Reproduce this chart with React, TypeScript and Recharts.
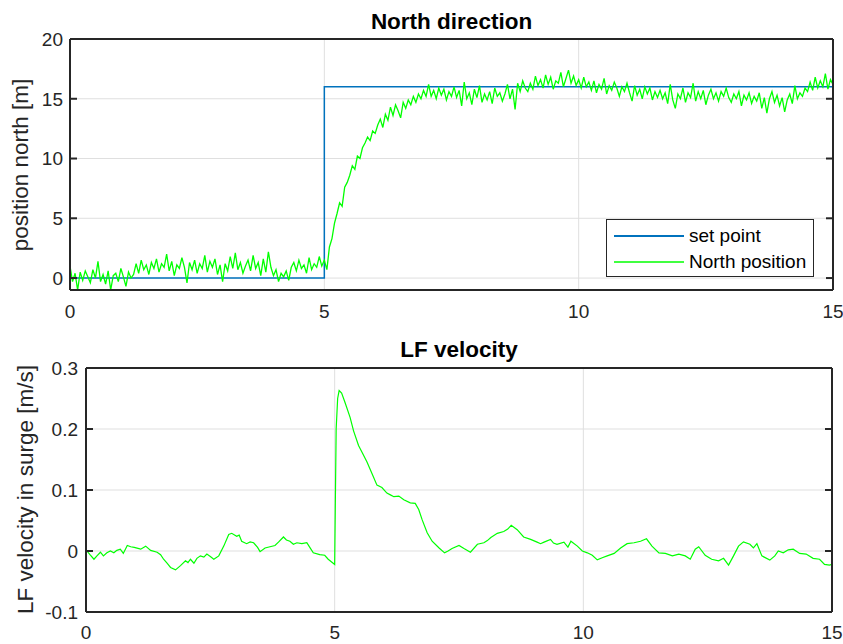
import React from "react";
import { LineChart, Line, XAxis, YAxis, CartesianGrid, Legend } from "recharts";

const AX = "#262626";
const GRID = "#dfdfdf";
const FONT = "'Liberation Sans', Arial, Helvetica, sans-serif";

const X_TICKS = [0, 5, 10, 15];
const NORTH_TICKS = [0, 5, 10, 15, 20];
const VEL_TICKS = [-0.1, 0, 0.1, 0.2, 0.3];
const LEGEND_ORDER = ["set point", "North position"];

// set point step
const SET_POINT_T = [0, 5, 5, 15];
const SET_POINT_N = [0, 0, 16, 16];

// north position, sampled every 0.05 s, one row per second
const NORTH_0_5 = [
  1.0, -0.3, 0.4, -1.0, 0.5, -0.2, 0.6, 0.1, -0.4, 0.7, 0.0, 1.4, -0.3, 0.3, -0.5, 0.6, -1.0, 0.2, 0.4, -0.3,
  0.8, 0.1, -0.7, 0.5, 0.0, 0.3, 1.2, 0.4, 1.5, 0.7, 1.1, 0.3, 1.3, 0.8, 1.6, 0.5, 1.2, 0.9, 2.0, 0.6,
  1.4, 0.2, 1.1, 0.8, 1.7, 0.9, -0.4, 1.3, 0.7, 1.5, 0.4, 1.2, 0.8, 1.9, 0.5, 1.4, 0.9, 1.6, 0.3, 1.1,
  -0.3, 1.2, 0.6, 1.8, 0.8, 2.1, 0.7, 1.3, 0.4, 1.0, 1.5, 0.6, 1.9, 0.8, 1.3, 0.2, 1.6, 0.5, 2.2, 0.9,
  0.2, 0.7, -0.3, 0.4, 0.1, 0.6, -0.2, 0.9, 1.3, 0.6, 1.5, 0.8, 1.1, 0.4, 1.7, 0.7, 1.2, 0.9, 1.8, 1.0,
];
const NORTH_5_10 = [
  1.5, 0.7, 2.6, 3.3, 4.6, 5.4, 6.3, 6.0, 7.6, 8.0, 8.6, 9.4, 9.1, 10.2, 10.0, 10.9, 11.3, 11.8, 11.5, 12.3,
  12.1, 12.8, 13.3, 12.6, 13.7, 13.2, 14.3, 13.6, 14.5, 14.0, 13.4, 14.7, 14.2, 14.9, 14.5, 15.2, 14.7, 15.4, 15.0, 15.7,
  15.2, 16.2, 15.2, 15.7, 15.0, 15.9, 15.3, 15.8, 14.9, 15.6, 15.2, 16.0, 15.1, 15.7, 14.4, 16.4, 15.0, 15.5, 14.5, 15.8,
  15.1, 16.1, 14.7, 15.4, 14.9, 15.6, 14.6, 15.9, 15.2, 15.5, 14.8, 15.4, 16.2, 15.0, 15.8, 14.1, 16.3, 15.6, 16.5, 15.9,
  15.6, 16.3, 15.8, 16.9, 16.1, 16.6, 15.9, 17.0, 16.2, 16.8, 15.8, 16.5, 16.3, 17.2, 16.0, 16.7, 17.4, 16.3, 16.9, 16.1,
];
const NORTH_10_15 = [
  16.6, 15.9, 16.8, 16.0, 16.4, 15.7, 16.5, 15.5, 16.2, 15.8, 16.7, 15.4, 16.1, 15.7, 16.4, 15.9, 15.2, 16.0, 15.6, 16.3,
  15.5, 14.8, 16.1, 15.3, 15.8, 15.0, 16.0, 15.4, 15.9, 14.9, 15.6, 15.1, 15.7, 15.0, 15.5, 14.6, 16.2, 14.9, 14.2, 15.4,
  15.0, 15.9, 14.7, 15.5, 15.1, 16.3, 14.8, 15.6, 15.0, 15.7, 14.5, 15.3, 15.8, 15.0, 15.5, 14.8, 15.6, 15.2, 15.9, 15.1,
  14.7, 15.4, 15.0, 15.6, 14.4, 15.3, 14.9, 15.5, 14.6, 15.2, 14.8, 15.5, 14.2, 15.1, 13.8, 15.0, 15.6, 14.7, 15.3, 14.4,
  15.1, 13.9, 14.9, 15.4, 14.6, 16.1, 15.0, 15.5, 15.2, 15.9, 15.6, 16.4, 15.7, 16.8, 15.9, 16.5, 16.0, 17.1, 15.8, 16.6, 16.2,
];
const DT = 0.05;

// LF velocity in surge
const VEL_T = [
  0, 0.08, 0.16, 0.22, 0.29, 0.35, 0.42, 0.49, 0.56, 0.62,
  0.69, 0.75, 0.83, 0.9, 0.97, 1.1, 1.2, 1.3, 1.43, 1.5,
  1.56, 1.63, 1.7, 1.8, 1.9, 2.0, 2.05, 2.1, 2.17, 2.23,
  2.3, 2.37, 2.43, 2.5, 2.57, 2.67, 2.77, 2.87, 2.93, 3.03,
  3.08, 3.13, 3.23, 3.3, 3.37, 3.45, 3.5, 3.6, 3.7, 3.8,
  3.87, 3.97, 4.03, 4.1, 4.17, 4.24, 4.34, 4.44, 4.5, 4.57,
  4.7, 4.8, 4.87, 4.97, 5.0, 5.03, 5.06, 5.09, 5.14, 5.21,
  5.31, 5.38, 5.48, 5.55, 5.65, 5.75, 5.85, 5.95, 6.05, 6.12,
  6.19, 6.29, 6.39, 6.52, 6.62, 6.69, 6.76, 6.86, 6.96, 7.1,
  7.21, 7.28, 7.36, 7.5, 7.6, 7.73, 7.87, 8.0, 8.07, 8.14,
  8.27, 8.4, 8.48, 8.55, 8.67, 8.8, 8.94, 9.07, 9.14, 9.21,
  9.34, 9.4, 9.47, 9.61, 9.69, 9.75, 9.88, 9.98, 10.08, 10.18,
  10.28, 10.38, 10.48, 10.62, 10.75, 10.88, 11.02, 11.15, 11.27, 11.38,
  11.52, 11.65, 11.79, 11.92, 12.05, 12.15, 12.25, 12.32, 12.45, 12.58,
  12.72, 12.82, 12.92, 13.02, 13.12, 13.22, 13.35, 13.42, 13.49, 13.59,
  13.75, 13.85, 13.92, 14.02, 14.12, 14.22, 14.35, 14.48, 14.62, 14.75,
  14.85, 14.95, 15.0,
];
const VEL_V = [
  0.002, -0.006, -0.0135, -0.008, -0.002, -0.008, -0.003, 0, -0.003, 0.001,
  0.003, -0.004, 0.009, 0.007, 0.006, 0.003, 0.008, 0.001, -0.002, -0.006,
  -0.0135, -0.02, -0.027, -0.031, -0.024, -0.016, -0.019, -0.0135, -0.02, -0.012,
  -0.008, -0.01, -0.005, -0.009, -0.0135, -0.008, 0.008, 0.027, 0.029, 0.024,
  0.026, 0.016, 0.012, 0.015, 0.0135, 0.006, -0.001, 0.005, 0.007, 0.009,
  0.0145, 0.023, 0.018, 0.016, 0.011, 0.0135, 0.012, 0.0135, 0.006, -0.003,
  -0.006, -0.007, -0.0135, -0.02, -0.022, 0.2, 0.25, 0.263, 0.259, 0.243,
  0.219, 0.197, 0.173, 0.162, 0.146, 0.127, 0.108, 0.104, 0.095, 0.092,
  0.089, 0.09, 0.084, 0.079, 0.078, 0.068, 0.051, 0.03, 0.016, 0.005,
  -0.003, 0, 0.004, 0.009, 0.004, -0.002, 0.011, 0.0135, 0.017, 0.022,
  0.029, 0.032, 0.036, 0.042, 0.035, 0.023, 0.019, 0.0146, 0.012, 0.0146,
  0.019, 0.013, 0.011, 0.0146, 0.0065, 0.016, 0.008, 0, -0.003, -0.007,
  -0.0146, -0.011, -0.008, -0.004, 0.005, 0.012, 0.0135, 0.016, 0.02, 0.008,
  -0.003, -0.004, -0.008, -0.005, -0.008, -0.0135, 0.003, 0.007, -0.007, -0.0135,
  -0.016, -0.012, -0.023, -0.008, 0.008, 0.015, 0.011, 0.005, 0.012, -0.008,
  -0.015, -0.008, 0, -0.003, 0.002, 0.003, -0.004, -0.005, -0.012, -0.0135,
  -0.022, -0.023, -0.022,
];

const setPointData = SET_POINT_T.map((t, i) => ({ t, n: SET_POINT_N[i] }));
const northData = [
  ...NORTH_0_5.map((n, i) => ({ t: i * DT, n })),
  ...NORTH_5_10.map((n, i) => ({ t: 5 + i * DT, n })),
  ...NORTH_10_15.map((n, i) => ({ t: 10 + i * DT, n })),
];
const velData = VEL_T.map((t, i) => ({ t, v: VEL_V[i] }));

const tickFont = { fontSize: 19, fill: AX, fontFamily: FONT };
const boxLine = { stroke: AX, strokeWidth: 2 };
// box axes: keep the inward tick marks, drop the labels
const noLabel = () => <g />;

// eslint-disable-next-line @typescript-eslint/no-explicit-any
function LegendBox({ payload }: any) {
  // recharts sorts legend items by name; keep the plotting order instead
  const items = [...(payload || [])].sort(
    (a: any, b: any) => LEGEND_ORDER.indexOf(a.value) - LEGEND_ORDER.indexOf(b.value)
  );
  return (
    <div
      style={{
        width: 208,
        height: 58,
        boxSizing: "border-box",
        border: `1px solid ${AX}`,
        background: "#fff",
        fontFamily: FONT,
        fontSize: 19,
        color: "#000",
        position: "relative",
      }}
    >
      {items.map((p: any, i: number) => (
        <div
          key={p.value}
          style={{ position: "absolute", left: 0, top: 4 + i * 25.5, height: 24, display: "flex", alignItems: "center" }}
        >
          <svg width={82} height={24}>
            <line x1={7} x2={77} y1={12} y2={12} stroke={p.color} strokeWidth={i === 0 ? 2 : 1.3} />
          </svg>
          <span style={{ whiteSpace: "nowrap" }}>{p.value}</span>
        </div>
      ))}
    </div>
  );
}

export default function App() {
  return (
    <div style={{ position: "relative", width: 843, height: 644, fontFamily: FONT, background: "#fff" }}>
      <style>{"body{margin:0}"}</style>

      <div style={{ position: "absolute", left: 0, top: 0 }}>
        <LineChart width={843} height={322} margin={{ top: 39, right: 10, bottom: 1, left: 0 }}>
          <CartesianGrid xAxisId="x" yAxisId="y" stroke={GRID} />
          <XAxis xAxisId="x" type="number" dataKey="t" domain={[0, 15]} ticks={X_TICKS} allowDataOverflow
            height={31} tickSize={0} tickMargin={15} axisLine={false} tickLine={false} tick={tickFont} />
          <XAxis xAxisId="xb" type="number" domain={[0, 15]} ticks={X_TICKS} allowDataOverflow mirror
            tick={noLabel} tickSize={7} tickLine={boxLine} axisLine={boxLine} />
          <XAxis xAxisId="xt" orientation="top" type="number" domain={[0, 15]} ticks={X_TICKS} allowDataOverflow mirror
            tick={noLabel} tickSize={7} tickLine={boxLine} axisLine={boxLine} />
          <YAxis yAxisId="y" type="number" domain={[-1, 20]} ticks={NORTH_TICKS} allowDataOverflow
            width={70} tickSize={0} tickMargin={7} axisLine={false} tickLine={false} tick={tickFont} />
          <YAxis yAxisId="yl" type="number" domain={[-1, 20]} ticks={NORTH_TICKS} allowDataOverflow mirror
            tick={noLabel} tickSize={7} tickLine={boxLine} axisLine={boxLine} />
          <YAxis yAxisId="yr" orientation="right" type="number" domain={[-1, 20]} ticks={NORTH_TICKS} allowDataOverflow mirror
            tick={noLabel} tickSize={7} tickLine={boxLine} axisLine={boxLine} />
          <Line xAxisId="x" yAxisId="y" data={setPointData} dataKey="n" name="set point" type="linear"
            stroke="#0072BD" strokeWidth={1.5} dot={false} activeDot={false} isAnimationActive={false} />
          <Line xAxisId="x" yAxisId="y" data={northData} dataKey="n" name="North position" type="linear"
            stroke="#00FF00" strokeWidth={1.3} dot={false} activeDot={false} isAnimationActive={false} />
          <Legend layout="vertical" align="center" verticalAlign="middle"
            wrapperStyle={{ left: 606, top: 219, width: 208, height: 58 }}
            content={(props: any) => <LegendBox payload={props.payload} />} />
        </LineChart>
      </div>

      <div style={{ position: "absolute", left: 0, top: 322 }}>
        <LineChart width={843} height={322} margin={{ top: 46, right: 11, bottom: 1, left: 0 }}>
          <CartesianGrid xAxisId="x" yAxisId="y" stroke={GRID} />
          <XAxis xAxisId="x" type="number" dataKey="t" domain={[0, 15]} ticks={X_TICKS} allowDataOverflow
            height={31} tickSize={0} tickMargin={14} axisLine={false} tickLine={false} tick={tickFont} />
          <XAxis xAxisId="xb" type="number" domain={[0, 15]} ticks={X_TICKS} allowDataOverflow mirror
            tick={noLabel} tickSize={7} tickLine={boxLine} axisLine={boxLine} />
          <XAxis xAxisId="xt" orientation="top" type="number" domain={[0, 15]} ticks={X_TICKS} allowDataOverflow mirror
            tick={noLabel} tickSize={7} tickLine={boxLine} axisLine={boxLine} />
          <YAxis yAxisId="y" type="number" domain={[-0.1, 0.3]} ticks={VEL_TICKS} allowDataOverflow
            width={86} tickSize={0} tickMargin={8} axisLine={false} tickLine={false} tick={tickFont} />
          <YAxis yAxisId="yl" type="number" domain={[-0.1, 0.3]} ticks={VEL_TICKS} allowDataOverflow mirror
            tick={noLabel} tickSize={7} tickLine={boxLine} axisLine={boxLine} />
          <YAxis yAxisId="yr" orientation="right" type="number" domain={[-0.1, 0.3]} ticks={VEL_TICKS} allowDataOverflow mirror
            tick={noLabel} tickSize={7} tickLine={boxLine} axisLine={boxLine} />
          <Line xAxisId="x" yAxisId="y" data={velData} dataKey="v" name="LF velocity" type="linear"
            stroke="#00FF00" strokeWidth={1.2} dot={false} activeDot={false} isAnimationActive={false} />
        </LineChart>
      </div>

      <svg width={843} height={644} style={{ position: "absolute", left: 0, top: 0, pointerEvents: "none" }}>
        <g fontFamily={FONT} textAnchor="middle">
          <text x={451.5} y={29} fontSize={22.5} fontWeight="bold" fill="#000">North direction</text>
          <text x={459} y={357} fontSize={22.5} fontWeight="bold" fill="#000">LF velocity</text>
          <text transform="translate(27.5,165) rotate(-90)" fontSize={22.5} fill={AX}>position north [m]</text>
          <text transform="translate(33,489.5) rotate(-90)" fontSize={22.5} fill={AX}>LF velocity in surge [m/s]</text>
        </g>
      </svg>
    </div>
  );
}
